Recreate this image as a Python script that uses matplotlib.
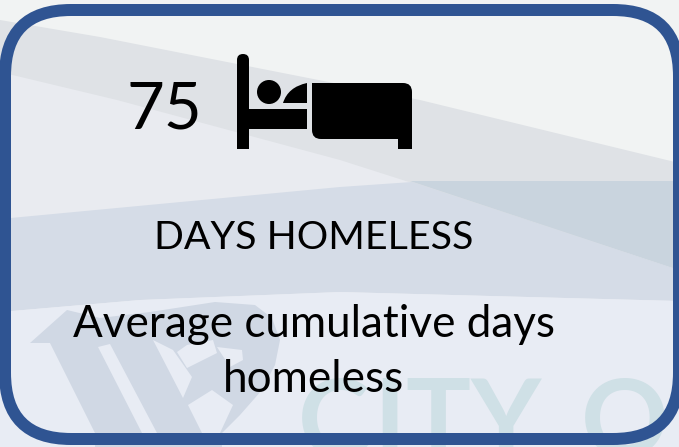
import matplotlib
matplotlib.use('Agg')
import matplotlib.pyplot as plt
from matplotlib.patches import FancyBboxPatch, Polygon, Circle, Rectangle, PathPatch
from matplotlib.path import Path

value = "75"
heading = "DAYS HOMELESS"
description = "Average cumulative days\nhomeless"
watermark_letters = ["C", "I", "T", "Y", "O"]

W, H = 679, 447
fig = plt.figure(figsize=(W/100, H/100), dpi=100)
ax = fig.add_axes([0, 0, 1, 1])
ax.set_xlim(0, W); ax.set_ylim(H, 0); ax.axis('off')
plt.rcParams['font.family'] = ['Lato', 'DejaVu Sans']

def poly(points, color, z):
    ax.add_patch(Polygon(points, fc=color, ec='none', zorder=z))

# background swooshes
ax.add_patch(Rectangle((0, 0), W, H, fc='#f1f3f3', ec='none', zorder=0))
poly([(0, 20), (100, 37), (420, 100), (679, 163), (679, 447), (0, 447)], '#dfe2e6', 1)
poly([(0, 72), (117, 100), (340, 160), (412, 183), (679, 270), (679, 447), (0, 447)], '#e9ebf0', 2)
poly([(0, 219), (340, 187), (412, 182), (679, 270), (679, 301), (340, 292), (140, 300), (0, 312)], '#d5dce7', 3)
poly([(410, 181), (679, 181), (679, 270)], '#c9d4de', 3)
poly([(0, 312), (140, 300), (340, 292), (679, 301), (679, 447), (0, 447)], '#e8ecf4', 3)

# watermark logo
poly([(30, 343), (67, 310), (100, 318), (150, 312), (215, 302), (255, 305), (272, 318), (280, 340),
      (275, 365), (262, 390), (240, 415), (222, 433), (222, 447), (95, 447), (95, 433), (50, 343)],
     '#d0d8e4', 4)
poly([(98, 347), (110, 344), (157, 433), (142, 433)], '#e8ecf4', 5)
poly([(153, 340), (173, 350), (192, 377), (183, 398)], '#e8ecf4', 5)
poly([(177, 352), (187, 345), (213, 340), (217, 353), (187, 368)], '#e8ecf4', 5)
poly([(217, 347), (242, 350), (243, 360), (230, 367)], '#e8ecf4', 5)
poly([(188, 405), (212, 390), (233, 405), (220, 433), (202, 433)], '#e8ecf4', 5)

# watermark text
for letter, x in zip(watermark_letters, [334, 389, 438, 506, 625]):
    ax.text(x, 456, letter, fontsize=78, fontweight='bold', ha='center', va='baseline',
            color='#cfe0e6', zorder=5)

ax.text(164, 110, value, fontsize=47, ha='center', va='center', color='black', zorder=8)
ax.text(314, 238, heading, fontsize=28.4, ha='center', va='center', color='black', zorder=8)
ax.text(314, 352, description, fontsize=31.7, ha='center', va='center', color='black',
        linespacing=1.45, zorder=8)

# card frame
ax.add_patch(FancyBboxPatch((5, 10), 674, 429, boxstyle='round,pad=0,rounding_size=66',
                            fc='none', ec='#2f5492', lw=8.64, zorder=9))

# bed icon
ax.add_patch(FancyBboxPatch((237, 54), 12, 95, boxstyle='round,pad=0,rounding_size=6',
                            fc='black', ec='none', zorder=8))
ax.add_patch(Rectangle((237, 130), 12, 19, fc='black', ec='none', zorder=8))
ax.add_patch(Rectangle((240, 109), 67, 20, fc='black', ec='none', zorder=8))
ax.add_patch(Circle((269, 92), 12, fc='black', ec='none', zorder=8))
ax.add_patch(PathPatch(Path([(283, 103), (288, 87), (307, 83), (307, 103), (283, 103)],
                            [Path.MOVETO, Path.CURVE3, Path.CURVE3, Path.LINETO, Path.CLOSEPOLY]),
                       fc='black', ec='none', zorder=8))
r = 9
body = Path([(312, 83), (412 - r, 83), (412, 83), (412, 83 + r), (412, 149), (398, 149), (398, 139),
             (312 + r, 139), (312, 139), (312, 139 - r), (312, 83)],
            [Path.MOVETO, Path.LINETO, Path.CURVE3, Path.CURVE3, Path.LINETO, Path.LINETO, Path.LINETO,
             Path.LINETO, Path.CURVE3, Path.CURVE3, Path.CLOSEPOLY])
ax.add_patch(PathPatch(body, fc='black', ec='none', zorder=8))

fig.savefig('out.png', dpi=100)
